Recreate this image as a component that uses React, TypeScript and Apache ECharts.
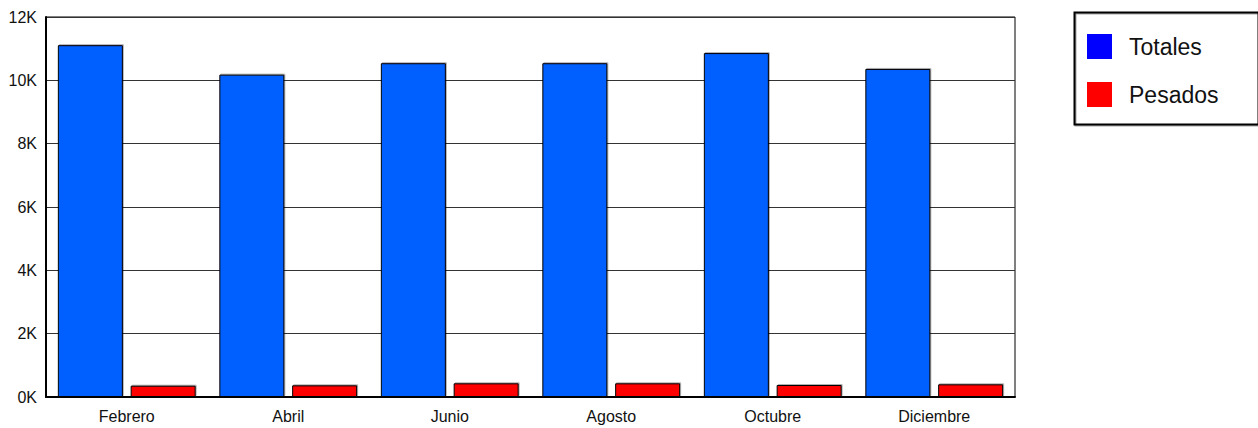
import React, { useEffect, useRef } from "react";
import * as echarts from "echarts";

const categories = ["Febrero", "Abril", "Junio", "Agosto", "Octubre", "Diciembre"];
const totales = [11110, 10180, 10540, 10540, 10860, 10360];
const pesados = [357, 368, 432, 432, 379, 400];
const yTicks = { min: 0, max: 12000, interval: 2000 };

export default function App() {
  const ref = useRef<HTMLDivElement>(null);
  useEffect(() => {
    document.body.style.margin = "0";
    document.body.style.overflow = "hidden";
    const chart = echarts.init(ref.current!, null, { renderer: "svg" });
    const font = "Arial, 'Liberation Sans', Helvetica, sans-serif";
    chart.setOption({
      animation: false,
      backgroundColor: "#fff",
      textStyle: { fontFamily: font },
      grid: {
        left: 46,
        top: 17,
        right: 243,
        bottom: 31,
        show: true,
        borderColor: "#000",
        borderWidth: 1,
      },
      legend: {
        orient: "vertical",
        left: 1087,
        top: 34,
        itemWidth: 25,
        itemHeight: 25,
        itemGap: 23,
        padding: 0,
        icon: "rect",
        textStyle: { fontSize: 23, color: "#111", fontFamily: font, padding: [5, 0, 0, 12] },
        data: [
          { name: "Totales", itemStyle: { color: "#0000ff", borderWidth: 0 } },
          { name: "Pesados", itemStyle: { color: "#ff0000", borderWidth: 0 } },
        ],
      },
      graphic: [
        {
          type: "rect",
          left: 1072,
          top: 10,
          shape: { width: 184, height: 112 },
          style: { fill: "none", stroke: "#000", lineWidth: 2, shadowColor: "rgba(0,0,0,0.35)", shadowOffsetX: 1, shadowOffsetY: 1 },
          z: -1,
        },
      ],
      xAxis: {
        type: "category",
        data: categories,
        axisLine: { lineStyle: { color: "#000", width: 2 } },
        axisTick: { show: false },
        axisLabel: { color: "#111", fontSize: 16, margin: 11, fontFamily: font },
      },
      yAxis: {
        type: "value",
        min: yTicks.min,
        max: yTicks.max,
        interval: yTicks.interval,
        axisLine: { show: true, lineStyle: { color: "#000", width: 2 } },
        axisTick: { show: false },
        splitLine: { lineStyle: { color: "#333", width: 1 } },
        axisLabel: {
          color: "#111",
          fontSize: 16,
          margin: 9,
          fontFamily: font,
          formatter: (v: number) => v / 1000 + "K",
        },
      },
      series: [
        {
          name: "Totales",
          type: "bar",
          data: totales,
          barWidth: 65,
          barGap: "12%",
          itemStyle: { color: "#0060ff", borderColor: "#000", borderWidth: 1, shadowColor: "rgba(0,0,0,0.3)", shadowOffsetX: 1, shadowOffsetY: -1 },
        },
        {
          name: "Pesados",
          type: "bar",
          data: pesados,
          barWidth: 65,
          barGap: "12%",
          itemStyle: { color: "#ff0000", borderColor: "#000", borderWidth: 1, shadowColor: "rgba(0,0,0,0.3)", shadowOffsetX: 1, shadowOffsetY: -1 },
        },
      ],
    });
    return () => chart.dispose();
  }, []);
  return <div ref={ref} style={{ position: "absolute", left: 0, top: 0, width: 1258, height: 428 }} />;
}
